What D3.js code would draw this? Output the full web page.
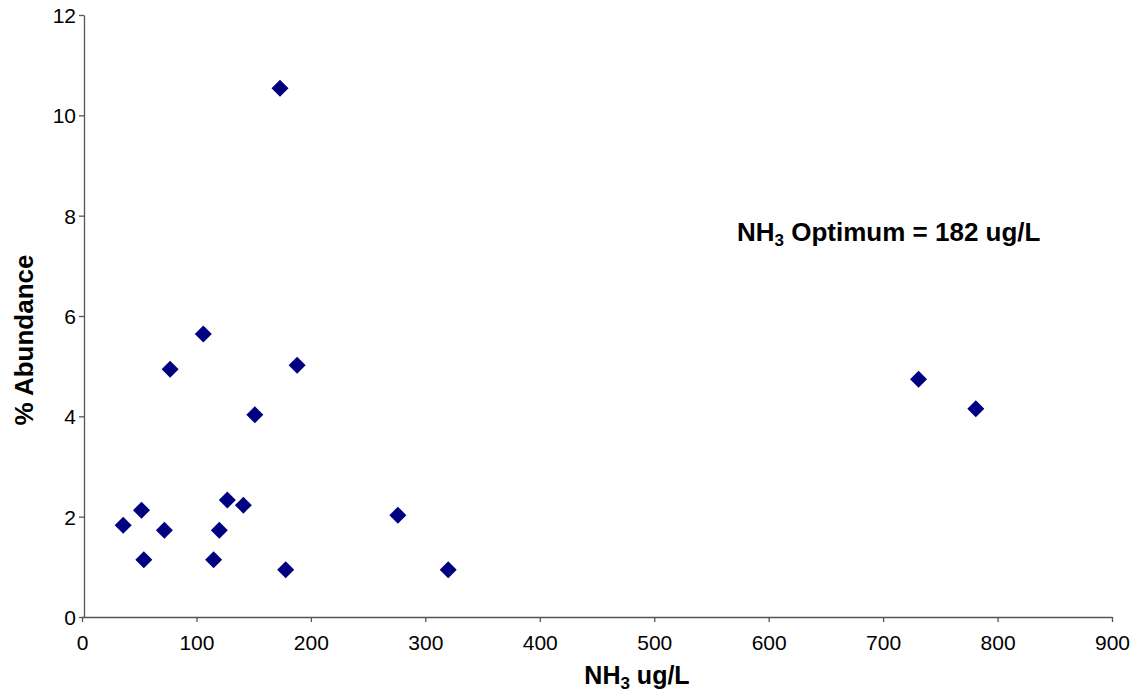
<!DOCTYPE html>
<html><head><meta charset="utf-8">
<script src="https://cdn.jsdelivr.net/npm/d3@7"></script>
<style>body{margin:0;background:#fff}svg{display:block}</style>
</head><body>
<svg id="c" width="1138" height="696"></svg>
<script>
const nh3 = [36, 52, 54, 72, 77, 106, 115, 120, 127, 141, 151, 173, 178, 188, 276, 320, 731, 781];
const abundance = [1.83, 2.13, 1.14, 1.73, 4.94, 5.64, 1.14, 1.73, 2.33, 2.23, 4.03, 10.54, 0.94, 5.02, 2.03, 0.94, 4.74, 4.15];
const xTicks = [0,100,200,300,400,500,600,700,800,900];
const yTicks = [0,2,4,6,8,10,12];

const svg = d3.select("#c");
const x = d3.scaleLinear().domain([0,900]).range([82,1112]);
const y = d3.scaleLinear().domain([0,12]).range([617,15]);
const font = "'Liberation Sans', Arial, sans-serif";

const xa = svg.append("g").attr("transform",`translate(0,${y(0)})`)
  .call(d3.axisBottom(x).tickValues(xTicks).tickSize(5).tickSizeOuter(0).tickPadding(8));
const ya = svg.append("g").attr("transform",`translate(${x(0)+2},0)`)
  .call(d3.axisLeft(y).tickValues(yTicks).tickSize(5).tickSizeOuter(0).tickPadding(3));
[xa,ya].forEach(a=>{
  a.selectAll("path,line").attr("stroke","#555").attr("stroke-width",1.3);
  a.selectAll("text").attr("font-family",font).attr("font-size",21).attr("fill","#000");
});
xa.selectAll("text").attr("dy","0.95em");
ya.selectAll("text").attr("dy","0.36em");

const r = 8.5;
const diamond = `M0,${-r}L${r},0L0,${r}L${-r},0Z`;
svg.append("g").selectAll("path").data(nh3).join("path")
  .attr("transform",(d,i)=>`translate(${x(d)},${y(abundance[i])})`)
  .attr("d",diamond).attr("fill","#000080");

// axis titles
const xt = svg.append("text").attr("x",637).attr("y",684).attr("text-anchor","middle")
  .attr("font-family",font).attr("font-weight","bold").attr("font-size",25);
xt.append("tspan").text("NH");
xt.append("tspan").text("3").attr("font-size",17).attr("dy",5);
xt.append("tspan").text(" ug/L").attr("dy",-5);

svg.append("text").attr("transform","translate(33,340) rotate(-90)").attr("text-anchor","middle")
  .attr("font-family",font).attr("font-weight","bold").attr("font-size",26).text("% Abundance");

const ann = svg.append("text").attr("x",737).attr("y",241)
  .attr("font-family",font).attr("font-weight","bold").attr("font-size",26);
ann.append("tspan").text("NH");
ann.append("tspan").text("3").attr("font-size",17).attr("dy",5);
ann.append("tspan").text(" Optimum = 182 ug/L").attr("dy",-5);
</script>
</body></html>
